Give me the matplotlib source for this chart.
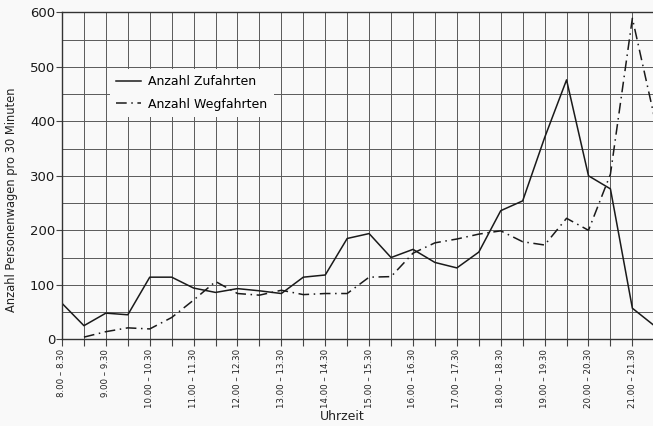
import matplotlib
matplotlib.use('Agg')
import matplotlib.pyplot as plt
import numpy             as np


# half-hour slots 8.00 - 8.30 ... 21.30 - 22.00
slots = ['8.00 – 8.30', '', '9.00 – 9.30', '', '10.00 – 10.30', '',
         '11.00 – 11.30', '', '12.00 – 12.30', '', '13.00 – 13.30', '',
         '14.00 – 14.30', '', '15.00 – 15.30', '', '16.00 – 16.30', '',
         '17.00 – 17.30', '', '18.00 – 18.30', '', '19.00 – 19.30', '',
         '20.00 – 20.30', '', '21.00 – 21.30', '']

zufahrten  = [66, 25, 48, 45, 114, 114, 94, 86, 93, 89, 84, 114, 118, 185,
              194, 150, 165, 141, 131, 160, 236, 254, 370, 476, 300, 276, 57, 25]

wegfahrten = [None, 4, 14, 21, 19, 40, 72, 106, 84, 81, 90, 82, 84, 84,
              114, 115, 158, 177, 184, 193, 199, 179, 173, 222, 200, 303, 589, 408]

yticks = [0, 100, 200, 300, 400, 500, 600]

plt.rcParams['font.family'] = ['DejaVu Sans']

fig = plt.figure(figsize=(6.53, 4.26), dpi=100, facecolor='#f9f9f9')
ax  = fig.add_axes([62/653, 1 - 339.3/426, 1 - 62/653 + 0.002, 327/426])
ax.set_facecolor('#f9f9f9')

x  = np.arange(len(slots))
xw = np.array([np.nan if v is None else v for v in wegfahrten], dtype=float)

ax.plot(x, zufahrten, color='#1a1a1a', lw=1.1, label='Anzahl Zufahrten')
ax.plot(x, xw, color='#1a1a1a', lw=1.1, linestyle=(0, (7, 3, 1, 3)),
        label='Anzahl Wegfahrten')

ax.set_xlim(0, len(slots) - 1)
ax.set_ylim(0, 600)

ax.set_xticks(x)
ax.set_xticklabels(slots, rotation=90, fontsize=6.2, color='#222222')
ax.set_yticks(yticks)
ax.set_yticklabels([str(v) for v in yticks], fontsize=9.5, color='#1a1a1a')
ax.set_yticks(np.arange(50, 600, 100), minor=True)

ax.tick_params(axis='x', length=5, width=0.8, color='#444444', pad=2)
ax.tick_params(axis='y', which='major', length=4, width=0.8, color='#444444', pad=1)
ax.tick_params(axis='y', which='minor', length=0)

ax.grid(True, which='both', color='#5a5a5a', lw=0.7)
ax.set_axisbelow(True)

for s in ['left', 'bottom', 'top']:
    ax.spines[s].set_color('#333333')
    ax.spines[s].set_linewidth(1.0)
ax.spines['right'].set_visible(False)

ax.set_ylabel('Anzahl Personenwagen pro 30 Minuten', fontsize=8.3,
              color='#222222')
ax.yaxis.set_label_coords(-0.074, 0.426)
fig.text(342/653, 1 - 417/426, 'Uhrzeit', fontsize=9, color='#222222',
         ha='center', va='center')

leg = ax.legend(loc='upper left', bbox_to_anchor=(0.07, 0.845), fontsize=9,
                frameon=True, fancybox=False, handlelength=2.0,
                handletextpad=0.6, labelspacing=0.75, borderpad=0.5)
leg.get_frame().set_facecolor('#f9f9f9')
leg.get_frame().set_edgecolor('none')
leg.get_frame().set_alpha(1.0)

fig.savefig('out.png', dpi=100, facecolor=fig.get_facecolor())
